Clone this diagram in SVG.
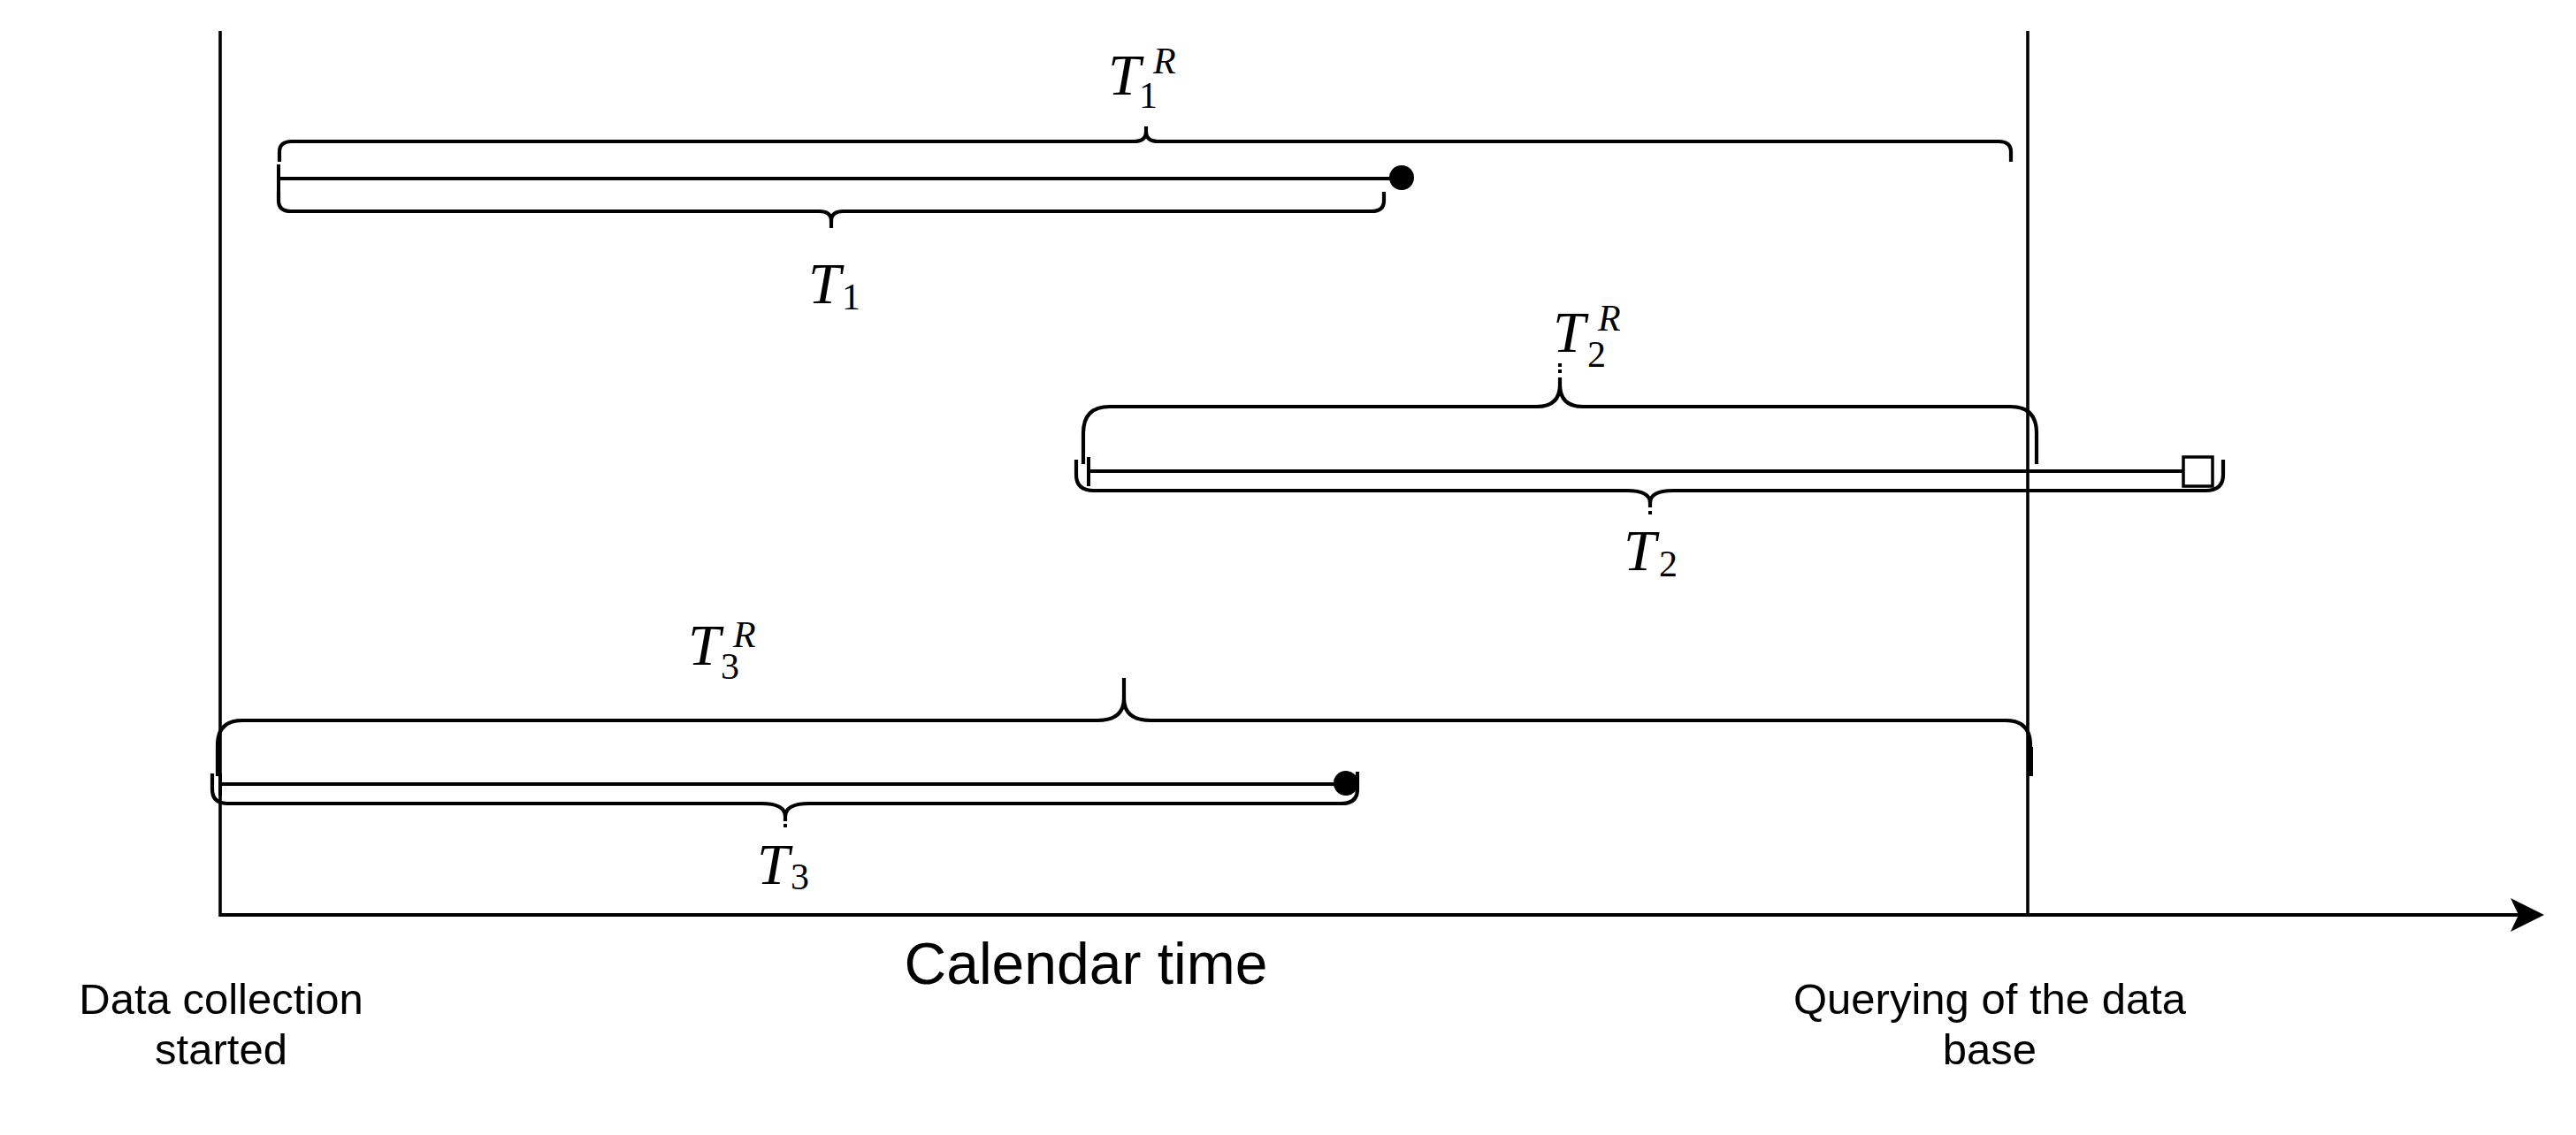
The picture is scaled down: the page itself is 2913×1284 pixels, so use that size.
<svg xmlns="http://www.w3.org/2000/svg" width="2913" height="1284" viewBox="0 0 2913 1284">
<style>
.ln{stroke:#000;stroke-width:4;fill:none}
.vl{stroke:#000;stroke-width:3.6;fill:none}
.br{stroke:#000;stroke-width:4.2;fill:none}
.dot{stroke:#000;stroke-width:4;stroke-dasharray:4 3;fill:none}
.m{font-family:"Liberation Serif","Times New Roman",serif;fill:#000}
.T{font-size:66px;font-style:italic}
.s{font-size:42px}
.si{font-size:42px;font-style:italic}
.lab{font-family:"Liberation Sans",Arial,sans-serif;fill:#000;text-anchor:middle}
</style>
<defs>
<marker id="arr" markerUnits="userSpaceOnUse" markerWidth="40" markerHeight="40" viewBox="-40 -20 40 40" refX="-27" refY="0" orient="auto">
<path d="M0,0 L-38,-19 L-29,0 L-38,19 Z" fill="#000"/>
</marker>
</defs>
<rect width="2913" height="1284" fill="#fff"/>
<g id="connectors">
<line class="vl" x1="249" y1="35" x2="249" y2="1037"/>
<line class="vl" x1="2293" y1="35" x2="2293" y2="1035"/>
<line class="ln" x1="249" y1="1035" x2="2850" y2="1035" marker-end="url(#arr)"/>
</g>
<g id="T1">
<line class="ln" x1="315" y1="202" x2="1585" y2="202"/>
<line class="ln" x1="315" y1="186" x2="315" y2="217"/>
<circle cx="1585" cy="201" r="14" fill="#000"/>
<path class="br" d="M316,183 L316,172 Q316,160 330,160 L1282,160 Q1296,160 1296,149 L1296,143 M1296,149 Q1296,160 1310,160 L2260,160 Q2274,160 2274,172 L2274,183"/>
<path class="br" d="M315,217 L315,227 Q315,239 329,239 L926,239 Q940,239 940,250 L940,258 M940,250 Q940,239 954,239 L1551,239 Q1565,239 1565,227 L1565,217"/>
</g>
<g id="T2">
<line class="ln" x1="1231" y1="533" x2="2468" y2="533"/>
<line class="ln" x1="1231" y1="517" x2="1231" y2="550"/>
<rect x="2469" y="517" width="33" height="33" fill="#fff" stroke="#000" stroke-width="3.5"/>
<path class="br" d="M1225,525 L1225,490 Q1225,460 1255,460 L1738,460 Q1764,460 1764,435 L1764,427 M1764,435 Q1764,460 1790,460 L2273,460 Q2303,460 2303,490 L2303,525"/>
<line class="dot" x1="1764" y1="411" x2="1764" y2="425"/>
<path class="br" d="M1217,520 L1217,537 Q1217,555 1237,555 L1840,555 Q1866,555 1866,569 L1866,574 M1866,569 Q1866,555 1892,555 L2494,555 Q2514,555 2514,537 L2514,520"/>
<line class="dot" x1="1866" y1="578" x2="1866" y2="583"/>
</g>
<g id="T3">
<line class="ln" x1="249" y1="887" x2="1522" y2="887"/>
<line class="ln" x1="249" y1="875" x2="249" y2="900"/>
<circle cx="1522" cy="886" r="14" fill="#000"/>
<path class="br" d="M246,878 L246,843 Q246,815 274,815 L1241,815 Q1271,815 1271,790 L1271,767 M1271,790 Q1271,815 1301,815 L2268,815 Q2296,815 2296,843 L2296,878"/>
<line x1="247" y1="845" x2="247" y2="878" stroke="#000" stroke-width="6"/>
<line x1="2296" y1="845" x2="2296" y2="878" stroke="#000" stroke-width="6"/>
<path class="br" d="M240,875 L240,893 Q240,909 258,909 L861,909 Q888,909 888,924 L888,929 M888,924 Q888,909 915,909 L1517,909 Q1535,909 1535,893 L1535,873"/>
<line class="dot" x1="888" y1="932" x2="888" y2="936"/>
</g>
<g id="labels">
<text class="m"><tspan class="T" x="1253" y="107">T</tspan><tspan class="s" x="1288" y="122">1</tspan><tspan class="si" x="1304" y="83">R</tspan></text>
<text class="m"><tspan class="T" x="914" y="343">T</tspan><tspan class="s" x="952" y="350">1</tspan></text>
<text class="m"><tspan class="T" x="1756" y="398">T</tspan><tspan class="s" x="1795" y="415">2</tspan><tspan class="si" x="1807" y="374">R</tspan></text>
<text class="m"><tspan class="T" x="1836" y="645">T</tspan><tspan class="s" x="1876" y="652">2</tspan></text>
<text class="m"><tspan class="T" x="778" y="752">T</tspan><tspan class="s" x="815" y="768">3</tspan><tspan class="si" x="829" y="732">R</tspan></text>
<text class="m"><tspan class="T" x="856" y="1000">T</tspan><tspan class="s" x="894" y="1006">3</tspan></text>
<text class="lab" x="1228" y="1113" font-size="66">Calendar time</text>
<text class="lab" font-size="49"><tspan x="250" y="1147">Data collection</tspan><tspan x="250" y="1204">started</tspan></text>
<text class="lab" font-size="49"><tspan x="2250" y="1147">Querying of the data</tspan><tspan x="2250" y="1204">base</tspan></text>
</g>
</svg>
